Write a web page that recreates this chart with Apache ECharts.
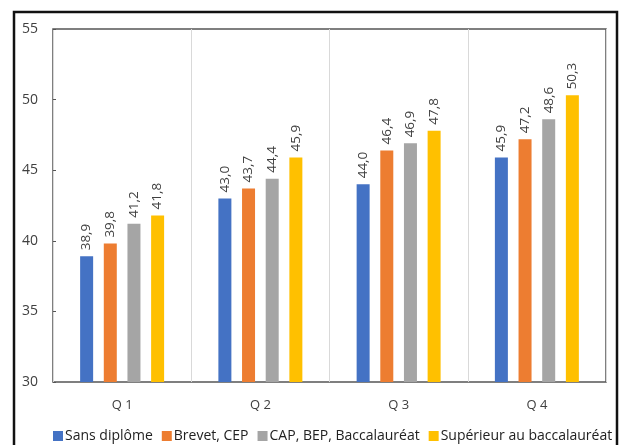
<!DOCTYPE html>
<html>
<head>
<meta charset="utf-8">
<script src="https://cdn.jsdelivr.net/npm/echarts@6/dist/echarts.min.js"></script>
<style>
html, body { margin: 0; padding: 0; background: #fff; }
#main { width: 621px; height: 445px; }
</style>
</head>
<body>
<div id="main"></div>
<script>
var categories = ['Q1', 'Q2', 'Q3', 'Q4'];
var seriesNames = ['Sans diplôme', 'Brevet, CEP', 'CAP, BEP, Baccalauréat', 'Supérieur au baccalauréat'];
var sansDiplome = [38.9, 43.0, 44.0, 45.9];
var brevetCep = [39.8, 43.7, 46.4, 47.2];
var capBepBac = [41.2, 44.4, 46.9, 48.6];
var superieurBac = [41.8, 45.9, 47.8, 50.3];
var yTicks = [30, 35, 40, 45, 50, 55];
var colors = ['#4472C4', '#ED7D31', '#A5A5A5', '#FFC000'];

var font = 'Open Sans';
var values = [sansDiplome, brevetCep, capBepBac, superieurBac];

var series = [];
for (var i = 0; i < values.length; i++) {
    series.push({
        name: seriesNames[i],
        type: 'bar',
        barWidth: 13,
        barGap: '82%',
        data: values[i],
        label: {
            show: true,
            position: 'top',
            rotate: 90,
            align: 'left',
            verticalAlign: 'middle',
            distance: 6,
            color: '#404040',
            fontFamily: font,
            fontSize: 13.5,
            formatter: function (p) { return p.value.toFixed(1).replace('.', ','); }
        }
    });
}

var option = {
    color: colors,
    animation: false,
    textStyle: { fontFamily: font },
    grid: {
        left: 53,
        right: 15,
        top: 29,
        bottom: 63,
        show: true,
        borderColor: '#555',
        borderWidth: 1.5,
        containLabel: false
    },
    legend: {
        data: seriesNames,
        top: 424,
        left: 48,
        itemWidth: 10,
        itemHeight: 10,
        itemGap: 9,
        icon: 'rect',
        textStyle: { fontFamily: font, fontSize: 14, color: '#222', padding: [0, 0, 0, -3] }
    },
    xAxis: {
        type: 'category',
        data: categories,
        axisLine: { show: false },
        axisTick: { show: false },
        splitLine: { show: true, lineStyle: { color: '#d9d9d9', width: 1 } },
        axisLabel: {
            color: '#404040',
            fontSize: 13,
            margin: 17,
            fontFamily: font,
            formatter: function (v) { return v.charAt(0) + ' ' + v.slice(1); }
        }
    },
    yAxis: {
        type: 'value',
        min: yTicks[0],
        max: yTicks[yTicks.length - 1],
        interval: 5,
        axisLine: { show: false },
        axisTick: { show: true, inside: true, length: 3, lineStyle: { color: '#555' } },
        splitLine: { show: false },
        axisLabel: { color: '#404040', fontSize: 14, margin: 15, fontFamily: font }
    },
    graphic: [{
        type: 'rect',
        shape: { x: 14, y: 12, width: 603, height: 460 },
        style: { fill: 'none', stroke: '#111', lineWidth: 2.5 },
        z: 100
    }],
    series: series
};

var myChart = echarts.init(document.getElementById('main'));
myChart.setOption(option);
</script>
</body>
</html>
